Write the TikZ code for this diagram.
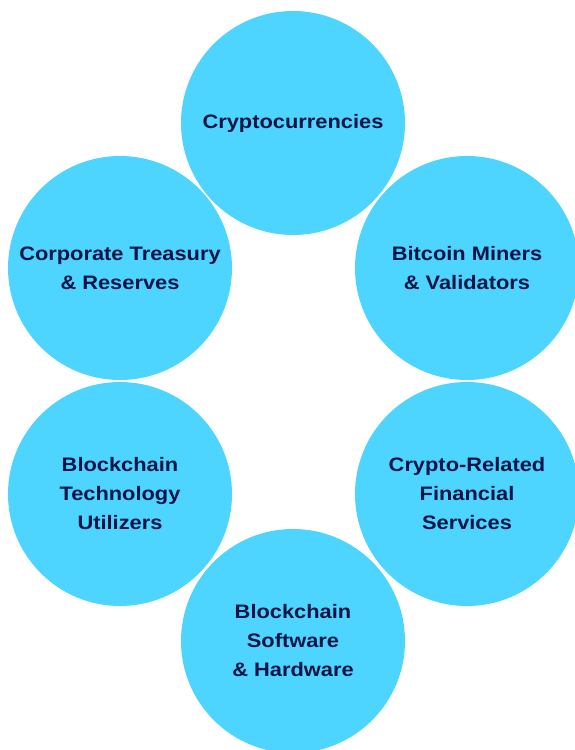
\documentclass[tikz,border=0pt]{standalone}
\usepackage{fontspec}
\setmainfont{Liberation Sans}[FakeStretch=1.12]
\definecolor{bubble}{HTML}{4DD4FF}
\definecolor{ink}{HTML}{0A1545}
\begin{document}
\begin{tikzpicture}[x=1pt,y=-1pt,
  bubble/.style={circle,fill=bubble,draw=none,minimum size=224pt,inner sep=0pt,
    text=ink,align=center,font=\fontsize{19.5}{29}\selectfont\bfseries}]
\useasboundingbox (0,0) rectangle (575,750);
\begin{scope}
\clip (0,0) rectangle (575,750);
\node[bubble] (crypto) at (293,123) {Cryptocurrencies};
\node[bubble] (treasury) at (120,268) {Corporate Treasury\\\& Reserves};
\node[bubble] (miners) at (467,268) {Bitcoin Miners\\\& Validators};
\node[bubble] (tech) at (120,494) {Blockchain\\Technology\\Utilizers};
\node[bubble] (fin) at (467,494) {Crypto-Related\\Financial\\Services};
\node[bubble] (soft) at (293,641) {Blockchain\\Software\\\& Hardware};
\end{scope}
\end{tikzpicture}
\end{document}
